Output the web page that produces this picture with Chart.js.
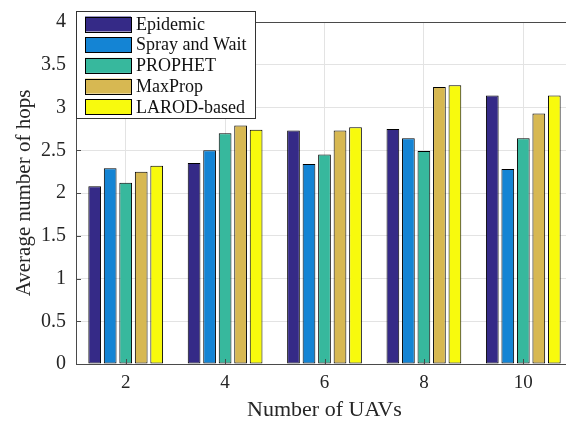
<!DOCTYPE html>
<html>
<head>
<meta charset="utf-8">
<script src="https://cdn.jsdelivr.net/npm/chart.js@4"></script>
<style>
    html, body { margin: 0; padding: 0; background: #fff; overflow: hidden; }
    #wrap { width: 580px; height: 421px; position: relative; }
</style>
</head>
<body>
<div id="wrap"><canvas id="hops"></canvas></div>
<script>
const UAV_COUNTS = ['2', '4', '6', '8', '10'];
const Y_TICKS = [0, 0.5, 1, 1.5, 2, 2.5, 3, 3.5, 4];

const EPIDEMIC = [2.08, 2.35, 2.73, 2.75, 3.14];
const SPRAY_AND_WAIT = [2.29, 2.50, 2.34, 2.64, 2.28];
const PROPHET = [2.12, 2.70, 2.45, 2.49, 2.64];
const MAXPROP = [2.25, 2.79, 2.73, 3.24, 2.93];
const LAROD = [2.32, 2.74, 2.77, 3.26, 3.14];

const SERIES_NAMES = ['Epidemic', 'Spray and Wait', 'PROPHET', 'MaxProp', 'LAROD-based'];
const SERIES_DATA = [EPIDEMIC, SPRAY_AND_WAIT, PROPHET, MAXPROP, LAROD];
const SERIES_COLORS = ['#352A87', '#1484D4', '#37B89D', '#D7B852', '#F8FA0D'];

const FONT = '"Liberation Serif", "Times New Roman", serif';
const AXIS_COLOR = '#4a4a4a';
const GRID_COLOR = '#e3e3e3';

// box outline, inward ticks and the legend panel (MATLAB look)
const matlabFrame = {
    id: 'matlabFrame',
    afterDraw(chart) {
        const { ctx, chartArea: area, scales } = chart;
        ctx.save();
        ctx.strokeStyle = AXIS_COLOR;
        ctx.lineWidth = 1;

        ctx.beginPath();
        ctx.moveTo(area.left, area.top + 0.5);
        ctx.lineTo(area.right, area.top + 0.5);
        scales.y.ticks.forEach((t) => {
            const y = Math.round(scales.y.getPixelForValue(t.value)) + 0.5;
            ctx.moveTo(area.left, y);
            ctx.lineTo(area.left + 5, y);
        });
        UAV_COUNTS.forEach((_, i) => {
            const x = Math.round(scales.x.getPixelForValue(i)) + 0.5;
            ctx.moveTo(x, area.bottom);
            ctx.lineTo(x, area.bottom - 5);
        });
        ctx.stroke();

        // legend
        const lx = 76, ly = 11, lw = 179, lh = 107;
        ctx.fillStyle = '#fff';
        ctx.fillRect(lx, ly, lw, lh);
        ctx.strokeStyle = '#333';
        ctx.strokeRect(lx + 0.5, ly + 0.5, lw, lh);
        ctx.font = `18px ${FONT}`;
        ctx.textBaseline = 'middle';
        chart.data.datasets.forEach((ds, i) => {
            const cy = ly + 13 + i * 20.7;
            ctx.fillStyle = ds.backgroundColor;
            ctx.fillRect(85, cy - 7.5, 46, 15);
            ctx.strokeStyle = '#000';
            ctx.strokeRect(85.5, Math.round(cy - 7.5) + 0.5, 46, 15);
            ctx.fillStyle = '#111';
            ctx.fillText(ds.label, 136, cy + 1);
        });
        ctx.restore();
    },
};

new Chart(document.getElementById('hops'), {
    type: 'bar',
    data: {
        labels: UAV_COUNTS,
        datasets: SERIES_NAMES.map((name, i) => ({
            label: name,
            data: SERIES_DATA[i],
            backgroundColor: SERIES_COLORS[i],
            borderColor: '#000',
            borderWidth: 1,
            borderSkipped: false,
            categoryPercentage: 0.78,
            barPercentage: 0.82,
        })),
    },
    options: {
        responsive: true,
        maintainAspectRatio: false,
        animation: false,
        layout: { padding: { top: 18, right: 7, left: 0, bottom: 0 } },
        plugins: {
            legend: { display: false },
            tooltip: { enabled: false },
        },
        scales: {
            x: {
                afterFit: (scale) => { scale.height = 57; },
                grid: { color: GRID_COLOR, offset: false, drawTicks: false },
                border: { color: AXIS_COLOR },
                ticks: {
                    color: '#262626',
                    padding: 8,
                    font: { family: FONT, size: 19 },
                },
                title: {
                    display: true,
                    text: 'Number of UAVs',
                    color: '#262626',
                    padding: { top: 0, bottom: 0 },
                    font: { family: FONT, size: 22, lineHeight: 1.0 },
                },
            },
            y: {
                min: 0,
                max: 4,
                afterFit: (scale) => { scale.width = 76; },
                afterBuildTicks: (scale) => {
                    scale.ticks = Y_TICKS.map((v) => ({ value: v }));
                },
                grid: { color: GRID_COLOR, drawTicks: false },
                border: { color: AXIS_COLOR },
                ticks: {
                    color: '#262626',
                    padding: 10,
                    font: { family: FONT, size: 20 },
                    callback: (value) => String(value),
                },
                title: {
                    display: true,
                    text: 'Average number of hops',
                    color: '#262626',
                    padding: { top: 12, bottom: 0 },
                    font: { family: FONT, size: 21 },
                },
            },
        },
    },
    plugins: [matlabFrame],
});
</script>
</body>
</html>
